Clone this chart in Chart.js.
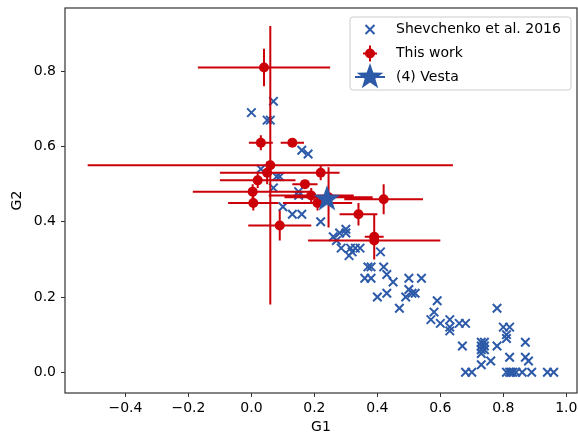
<!DOCTYPE html>
<html>
<head>
<meta charset="utf-8">
<script src="https://cdn.jsdelivr.net/npm/chart.js@4.4.0/dist/chart.umd.min.js"></script>
<style>body{margin:0;background:#fff}</style>
</head>
<body>
<canvas id="chart" width="578" height="434"></canvas>
<script>
// Shevchenko et al. 2016 (blue crosses)
var shevG1 = [0.00, 0.07, 0.05, 0.06, 0.16, 0.18, 0.03, 0.08, 0.09, 0.07, 0.15, 0.15, 0.10, 0.13, 0.16, 0.22,
  0.26, 0.28, 0.30, 0.30, 0.27, 0.285, 0.31, 0.32, 0.315, 0.33, 0.345, 0.36, 0.38, 0.37, 0.38, 0.41, 0.42, 0.43,
  0.45, 0.40, 0.43, 0.50, 0.54, 0.50, 0.51, 0.52, 0.49, 0.47, 0.59, 0.58, 0.57, 0.60, 0.63, 0.63, 0.63, 0.66,
  0.68, 0.67, 0.68, 0.70, 0.73, 0.73, 0.74, 0.73, 0.74, 0.73, 0.74, 0.73, 0.76, 0.78, 0.78, 0.80, 0.82, 0.81,
  0.81, 0.82, 0.87, 0.87, 0.88, 0.81, 0.82, 0.825, 0.83, 0.84, 0.86, 0.89, 0.94, 0.96];
var shevG2 = [0.69, 0.72, 0.67, 0.67, 0.59, 0.58, 0.54, 0.52, 0.52, 0.49, 0.48, 0.47, 0.44, 0.42, 0.42, 0.40,
  0.36, 0.37, 0.38, 0.37, 0.35, 0.33, 0.31, 0.32, 0.33, 0.33, 0.33, 0.25, 0.25, 0.28, 0.28, 0.32, 0.28, 0.26,
  0.24, 0.20, 0.21, 0.25, 0.25, 0.22, 0.21, 0.21, 0.20, 0.17, 0.19, 0.16, 0.14, 0.13, 0.14, 0.12, 0.11, 0.13,
  0.13, 0.07, 0.00, 0.00, 0.02, 0.08, 0.08, 0.07, 0.07, 0.06, 0.06, 0.05, 0.03, 0.17, 0.07, 0.12, 0.12, 0.10,
  0.09, 0.04, 0.08, 0.04, 0.03, 0.00, 0.00, 0.00, 0.00, 0.00, 0.00, 0.00, 0.00, 0.00];

// This work (red points with error bars)
var workG1 = [0.04, 0.03, 0.13, 0.06, 0.05, 0.02, 0.004, 0.006, 0.09, 0.17, 0.22, 0.19, 0.21, 0.245, 0.42, 0.34, 0.39, 0.39];
var workG2 = [0.81, 0.61, 0.61, 0.55, 0.53, 0.51, 0.48, 0.45, 0.39, 0.50, 0.53, 0.47, 0.45, 0.465, 0.46, 0.42, 0.36, 0.35];
var workErrG1 = [0.21, 0.038, 0.037, 0.58, 0.15, 0.12, 0.19, 0.08, 0.10, 0.04, 0.06, 0.135, 0.11, 0.14, 0.125, 0.06, 0.03, 0.21];
var workErrG2 = [0.05, 0.02, 0.01, 0.37, 0.03, 0.02, 0.02, 0.02, 0.04, 0.01, 0.02, 0.02, 0.02, 0.08, 0.04, 0.03, 0.06, 0.01];

// (4) Vesta
var vestaG1 = [0.24];
var vestaG2 = [0.46];

var xTicks = [-0.4, -0.2, 0.0, 0.2, 0.4, 0.6, 0.8, 1.0];
var yTicks = [0.0, 0.2, 0.4, 0.6, 0.8];
var seriesLabels = ['Shevchenko et al. 2016', 'This work', '(4) Vesta'];

var BLUE = 'rgb(44, 90, 168)';
var RED = 'rgb(204, 0, 8)';
var FONT = 'DejaVu Sans';

function toPoints(xs, ys) {
  return xs.map(function (x, i) { return {x: x, y: ys[i]}; });
}

// error bars as one broken line, gaps between segments
var errData = [];
workG1.forEach(function (x, i) {
  var y = workG2[i];
  errData.push({x: x - workErrG1[i], y: y}, {x: x + workErrG1[i], y: y}, {x: x, y: null});
  errData.push({x: x, y: y - workErrG2[i]}, {x: x, y: y + workErrG2[i]}, {x: x, y: null});
});

function starImage(r) {
  var c = document.createElement('canvas');
  c.width = c.height = Math.ceil(r * 2 + 2);
  var g = c.getContext('2d');
  var cx = c.width / 2, cy = c.height / 2;
  g.beginPath();
  for (var i = 0; i < 10; i++) {
    var rr = i % 2 ? r * 0.4 : r;
    var a = -Math.PI / 2 + i * Math.PI / 5;
    g.lineTo(cx + rr * Math.cos(a), cy + rr * Math.sin(a));
  }
  g.closePath();
  g.fillStyle = BLUE;
  g.fill();
  return c;
}
var star = starImage(14);

function tickLabel(v) {
  return (v < 0 ? '\u2212' : '') + Math.abs(v).toFixed(1);
}

function noPadding(s) {
  s.paddingLeft = 0; s.paddingRight = 0; s.paddingTop = 0; s.paddingBottom = 0;
}

var frameAndLegend = {
  id: 'frameAndLegend',
  afterDraw: function (chart) {
    var ctx = chart.ctx, a = chart.chartArea;
    ctx.save();
    ctx.strokeStyle = '#333';
    ctx.lineWidth = 1.2;
    ctx.strokeRect(a.left, a.top, a.right - a.left, a.bottom - a.top);

    // legend box, upper right
    var w = 221, h = 73;
    var bx = a.right - 6 - w, by = a.top + 9;
    ctx.beginPath();
    ctx.roundRect(bx, by, w, h, 3);
    ctx.fillStyle = 'rgba(255,255,255,0.8)';
    ctx.fill();
    ctx.strokeStyle = '#cccccc';
    ctx.lineWidth = 1;
    ctx.stroke();

    var mx = bx + 20, tx = bx + 46;
    var rows = [by + 12.5, by + 36.5, by + 60];

    // blue cross
    ctx.strokeStyle = BLUE;
    ctx.lineWidth = 2;
    ctx.beginPath();
    ctx.moveTo(mx - 4.5, rows[0] - 4.5); ctx.lineTo(mx + 4.5, rows[0] + 4.5);
    ctx.moveTo(mx + 4.5, rows[0] - 4.5); ctx.lineTo(mx - 4.5, rows[0] + 4.5);
    ctx.stroke();

    // red point with bars
    ctx.strokeStyle = RED;
    ctx.beginPath();
    ctx.moveTo(mx, rows[1] - 8); ctx.lineTo(mx, rows[1] + 8);
    ctx.moveTo(mx - 7, rows[1]); ctx.lineTo(mx + 7, rows[1]);
    ctx.stroke();
    ctx.fillStyle = RED;
    ctx.beginPath();
    ctx.arc(mx, rows[1], 5, 0, Math.PI * 2);
    ctx.fill();

    // star with bar
    ctx.strokeStyle = BLUE;
    ctx.beginPath();
    ctx.moveTo(mx - 15, rows[2]); ctx.lineTo(mx + 15, rows[2]);
    ctx.stroke();
    ctx.drawImage(star, mx - star.width / 2, rows[2] - star.height / 2);

    ctx.fillStyle = '#000';
    ctx.font = '14px "' + FONT + '"';
    ctx.textBaseline = 'middle';
    seriesLabels.forEach(function (t, i) { ctx.fillText(t, tx, rows[i]); });
    ctx.restore();
  }
};

new Chart(document.getElementById('chart'), {
  type: 'scatter',
  data: {
    datasets: [
      {
        label: seriesLabels[2],
        data: toPoints(vestaG1, vestaG2),
        pointStyle: star,
        order: 0
      },
      {
        label: seriesLabels[1],
        data: toPoints(workG1, workG2),
        pointStyle: 'circle',
        pointRadius: 5,
        backgroundColor: RED,
        borderColor: RED,
        borderWidth: 0,
        order: 1
      },
      {
        label: 'errors',
        type: 'line',
        data: errData,
        showLine: true,
        spanGaps: false,
        pointRadius: 0,
        borderColor: RED,
        borderWidth: 2,
        fill: false,
        order: 2
      },
      {
        label: seriesLabels[0],
        data: toPoints(shevG1, shevG2),
        pointStyle: 'crossRot',
        pointRadius: 6,
        borderColor: BLUE,
        borderWidth: 2,
        order: 3
      }
    ]
  },
  options: {
    responsive: false,
    animation: false,
    layout: {autoPadding: false, padding: {top: 8, right: 1, left: 0, bottom: 0}},
    plugins: {legend: {display: false}, tooltip: {enabled: false}},
    scales: {
      x: {
        type: 'linear',
        min: -0.592,
        max: 1.034,
        afterBuildTicks: function (s) { s.ticks = xTicks.map(function (v) { return {value: v}; }); },
        afterFit: function (s) { s.height = 41; noPadding(s); },
        grid: {drawOnChartArea: false, tickLength: 4, tickColor: '#333'},
        border: {display: false},
        ticks: {callback: tickLabel, color: '#000', padding: 3, maxRotation: 0, font: {family: FONT, size: 14}},
        title: {display: true, text: 'G1', color: '#000', padding: 0, font: {family: FONT, size: 14, lineHeight: 1}}
      },
      y: {
        type: 'linear',
        min: -0.055,
        max: 0.968,
        afterBuildTicks: function (s) { s.ticks = yTicks.map(function (v) { return {value: v}; }); },
        afterFit: function (s) { s.width = 65; noPadding(s); },
        grid: {drawOnChartArea: false, tickLength: 4, tickColor: '#333'},
        border: {display: false},
        ticks: {callback: tickLabel, color: '#000', padding: 5, font: {family: FONT, size: 14}},
        title: {display: true, text: 'G2', color: '#000', padding: {top: 10, bottom: 0}, font: {family: FONT, size: 14, lineHeight: 1}}
      }
    }
  },
  plugins: [frameAndLegend]
});
</script>
</body>
</html>
